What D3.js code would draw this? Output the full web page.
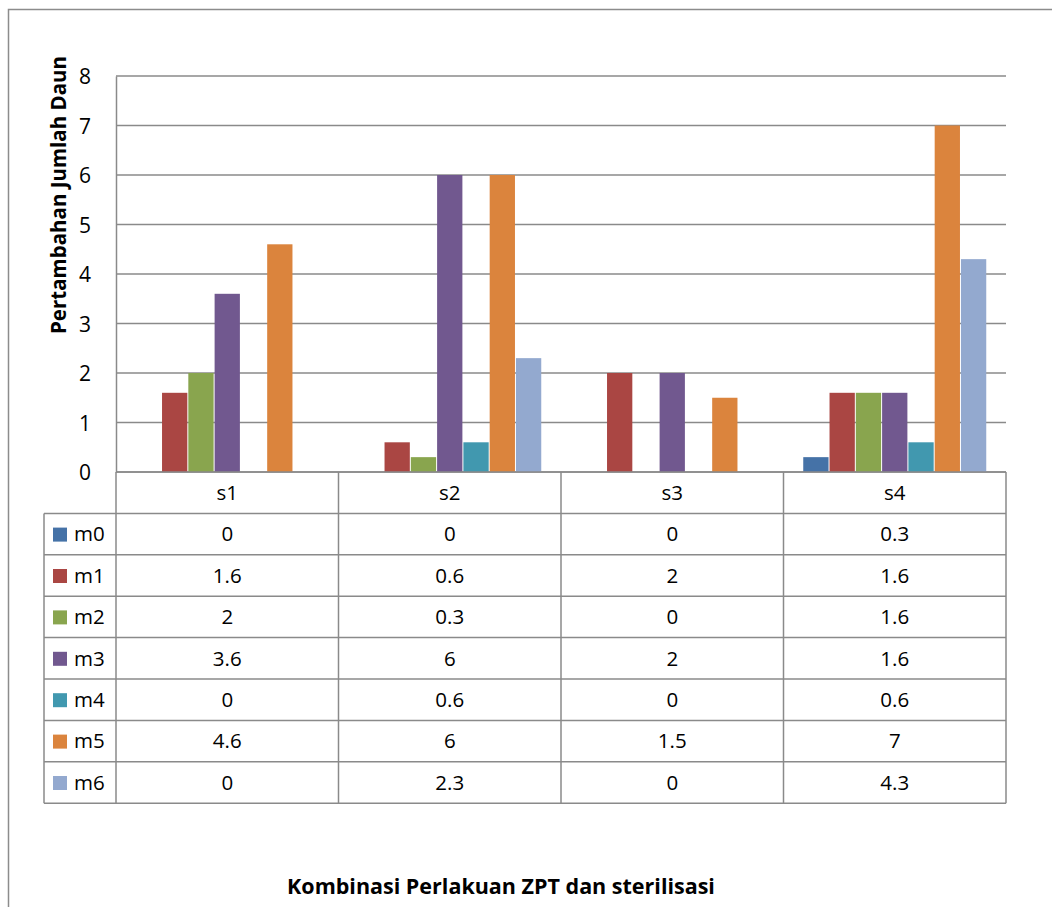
<!DOCTYPE html>
<html><head><meta charset="utf-8">
<script src="https://cdn.jsdelivr.net/npm/d3@7"></script>
<style>body{margin:0;background:#fff}svg{display:block}text{font-family:"Open Sans",Lato,sans-serif}</style>
</head><body>
<script>
const categories = ["s1","s2","s3","s4"];
const seriesNames = ["m0","m1","m2","m3","m4","m5","m6"];
const m0 = [0,0,0,0.3];
const m1 = [1.6,0.6,2,1.6];
const m2 = [2,0.3,0,1.6];
const m3 = [3.6,6,2,1.6];
const m4 = [0,0.6,0,0.6];
const m5 = [4.6,6,1.5,7];
const m6 = [0,2.3,0,4.3];
const seriesValues = [m0,m1,m2,m3,m4,m5,m6];
const colors = ["#4572A7","#AA4643","#89A54E","#71588F","#4198AF","#DB843D","#93A9CF"];
const yTicks = [0,1,2,3,4,5,6,7,8];
const yTitle = "Pertambahan Jumlah Daun";
const xTitle = "Kombinasi Perlakuan ZPT dan sterilisasi";

const W=1052,H=907;
const svg=d3.select("body").append("svg").attr("width",W).attr("height",H);
svg.append("rect").attr("x",8.5).attr("y",9.5).attr("width",1060).attr("height",920)
  .attr("fill","#fff").attr("stroke","#8c8c8c").attr("stroke-width",1.5);

const L=116,R=1006,T=76,B=472;
const grid="#8a8a8a";
const x=d3.scaleBand().domain(categories).range([L,R]);
const y=d3.scaleLinear().domain([0,8]).range([B,T]);
const gap=38.5;
const xs=d3.scaleBand().domain(seriesNames).range([0,x.bandwidth()-gap]);

svg.append("g").selectAll("line").data(yTicks).join("line")
  .attr("x1",L).attr("x2",R).attr("y1",d=>y(d)).attr("y2",d=>y(d))
  .attr("stroke",grid).attr("stroke-width",1.5);
const ax=svg.append("g").attr("transform",`translate(${L},0)`)
  .call(d3.axisLeft(y).tickValues(yTicks).tickSize(0).tickPadding(25).tickFormat(d3.format("d")));
ax.select(".domain").attr("stroke",grid).attr("stroke-width",1.5);
ax.selectAll("text").attr("font-size",21).attr("fill","#000").attr("dy","0.36em").attr("font-family","'Open Sans'");

seriesNames.forEach((s,i)=>{
  svg.append("g").selectAll("rect").data(categories).join("rect")
    .attr("x",(c)=>x(c)+gap/2+xs(s)+0.5)
    .attr("width",xs.bandwidth()-1)
    .attr("y",(c,j)=>y(seriesValues[i][j]))
    .attr("height",(c,j)=>y(0)-y(seriesValues[i][j]))
    .attr("fill",colors[i]);
});
svg.append("line").attr("x1",L).attr("x2",R).attr("y1",B).attr("y2",B).attr("stroke",grid).attr("stroke-width",1.5);

const rowH=41.4, tTop=B, legL=44;
const rowY=i=>tTop+rowH*(i+1);
const tg=svg.append("g");
for(let i=0;i<=seriesNames.length;i++){
  tg.append("line").attr("x1",legL).attr("x2",R).attr("y1",rowY(i)).attr("y2",rowY(i)).attr("stroke",grid).attr("stroke-width",1.5);
}
const colEdges=categories.map(c=>x(c)).concat([R]);
colEdges.forEach(cx=>{
  tg.append("line").attr("x1",cx).attr("x2",cx).attr("y1",tTop).attr("y2",rowY(seriesNames.length)).attr("stroke",grid).attr("stroke-width",1.5);
});
tg.append("line").attr("x1",legL).attr("x2",legL).attr("y1",rowY(0)).attr("y2",rowY(seriesNames.length)).attr("stroke",grid).attr("stroke-width",1.5);
tg.selectAll("text.cat").data(categories).join("text").attr("class","cat")
  .attr("x",c=>x(c)+x.bandwidth()/2).attr("y",tTop+rowH/2).attr("dy","0.36em")
  .attr("text-anchor","middle").attr("font-size",20.5).text(c=>c);
seriesNames.forEach((s,i)=>{
  const cy=rowY(i)+rowH/2;
  tg.append("rect").attr("x",53).attr("y",cy-6.5).attr("width",14).attr("height",14).attr("fill",colors[i]);
  tg.append("text").attr("x",74).attr("y",cy).attr("dy","0.36em").attr("font-size",20.5).text(s);
  tg.selectAll(null).data(categories).join("text")
    .attr("x",c=>x(c)+x.bandwidth()/2).attr("y",cy).attr("dy","0.36em")
    .attr("text-anchor","middle").attr("font-size",20.5)
    .text((c,j)=>String(seriesValues[i][j]));
});

svg.append("text").attr("transform",`translate(66,195) rotate(-90)`).attr("text-anchor","middle")
  .attr("font-size",20.5).attr("font-weight","bold").text(yTitle);
svg.append("text").attr("x",501).attr("y",894).attr("text-anchor","middle")
  .attr("font-size",21.5).attr("font-weight","bold").text(xTitle);
</script>
</body></html>
